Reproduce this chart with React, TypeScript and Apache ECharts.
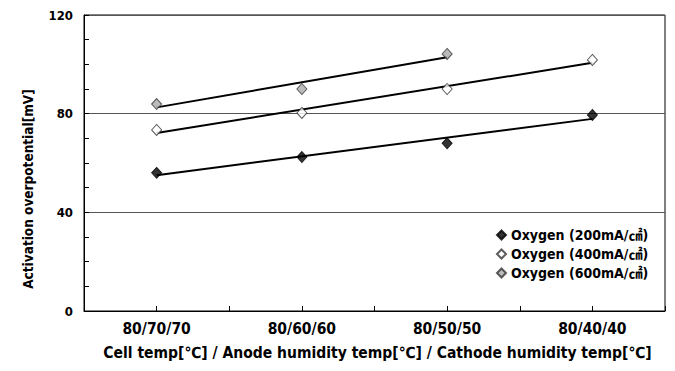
import React, { useEffect, useRef } from "react";
import * as echarts from "echarts";

const categories = ["80/70/70", "80/60/60", "80/50/50", "80/40/40"];
const seriesNames = ["Oxygen (200mA/㎠)", "Oxygen (400mA/㎠)", "Oxygen (600mA/㎠)"];
const oxygen200 = [56, 62.4, 68, 79.5];
const oxygen400 = [73.4, 80.3, 90, 101.8];
const oxygen600 = [83.9, 90, 104.2];
const yTicks = { min: 0, max: 120, interval: 40 };
const xTitle = "Cell temp[℃] / Anode humidity temp[℃] / Cathode humidity temp[℃]";
const yTitle = "Activation overpotential[mV]";

const FONT = "'DejaVu Sans Condensed', 'DejaVu Sans', 'Noto Sans CJK JP', sans-serif";

function toPoints(vals: number[]) {
  return vals.map((v, i) => [i + 0.5, v]);
}

function trend(vals: number[]) {
  const n = vals.length;
  const xs = vals.map((_, i) => i + 0.5);
  const mx = xs.reduce((a, b) => a + b, 0) / n;
  const my = vals.reduce((a, b) => a + b, 0) / n;
  let sxy = 0;
  let sxx = 0;
  for (let i = 0; i < n; i++) {
    sxy += (xs[i] - mx) * (vals[i] - my);
    sxx += (xs[i] - mx) * (xs[i] - mx);
  }
  const b = sxy / sxx;
  const a = my - b * mx;
  return [
    [xs[0], a + b * xs[0]],
    [xs[n - 1], a + b * xs[n - 1]],
  ];
}

export default function App() {
  const ref = useRef<HTMLDivElement>(null);
  useEffect(() => {
    if (!ref.current) return;
    const chart = echarts.init(ref.current, null, { renderer: "svg" });
    const styles = [
      { color: "#000", borderColor: "#000", borderWidth: 1 },
      { color: "#fff", borderColor: "#333", borderWidth: 1 },
      { color: "#aaa", borderColor: "#333", borderWidth: 1 },
    ];
    const datasets = [oxygen200, oxygen400, oxygen600];
    const scatter = datasets.map((d, i) => ({
      name: seriesNames[i],
      type: "scatter",
      data: toPoints(d),
      symbol: "diamond",
      symbolSize: [10, 11],
      itemStyle: styles[i],
      z: 5,
    }));
    const lines = datasets.map((d, i) => ({
      name: "trend" + i,
      type: "line",
      data: trend(d),
      showSymbol: false,
      symbol: "none",
      lineStyle: { color: "#000", width: 2 },
      silent: true,
      z: 3,
    }));
    chart.setOption({
      animation: false,
      backgroundColor: "#fff",
      textStyle: { fontFamily: FONT, fontWeight: "bold" },
      grid: {
        left: 84,
        right: 10,
        top: 15,
        bottom: 60,
        show: true,
        borderColor: "#000",
        borderWidth: 1,
        containLabel: false,
      },
      graphic: [
        {
          type: "text",
          x: 28,
          y: 189,
          rotation: Math.PI / 2,
          style: {
            text: yTitle,
            align: "center",
            verticalAlign: "middle",
            fontFamily: FONT,
            fontWeight: "bold",
            fontSize: 13.5,
            fill: "#000",
          },
        },
      ],
      legend: {
        data: seriesNames,
        orient: "vertical",
        left: 491,
        top: 223,
        itemWidth: 9,
        itemHeight: 9,
        itemGap: 5,
        icon: "diamond",
        textStyle: {
          fontFamily: FONT,
          fontWeight: "bold",
          fontSize: 14,
          color: "#000",
        },
      },
      xAxis: {
        type: "value",
        min: 0,
        max: categories.length,
        interval: 0.5,
        name: xTitle,
        nameLocation: "middle",
        nameGap: 34,
        nameTextStyle: {
          fontFamily: FONT,
          fontWeight: "bold",
          fontSize: 15.5,
          color: "#000",
          padding: [0, 0, 0, 6],
        },
        axisLine: { show: true, lineStyle: { color: "#000", width: 1 } },
        axisTick: { show: true, inside: true, length: 5, lineStyle: { color: "#000" } },
        splitLine: { show: false },
        axisLabel: {
          color: "#000",
          fontFamily: FONT,
          fontWeight: "bold",
          fontSize: 15.5,
          margin: 10,
          showMinLabel: true,
          showMaxLabel: true,
          formatter: (v: number) => {
            const i = Math.floor(v);
            return Math.abs(v - i - 0.5) < 1e-6 ? categories[i] : "";
          },
        },
      },
      yAxis: {
        type: "value",
        min: yTicks.min,
        max: yTicks.max,
        interval: yTicks.interval,
        axisLine: { show: true, lineStyle: { color: "#000", width: 1 } },
        axisTick: { show: true, inside: true, length: 5, lineStyle: { color: "#000" } },
        minorTick: { show: true, splitNumber: 4, length: 5, lineStyle: { color: "#000" } },
        splitLine: { show: true, lineStyle: { color: "#555", width: 1 } },
        axisLabel: { color: "#000", fontFamily: FONT, fontWeight: "bold", fontSize: 13, margin: 11 },
      },
      series: [...lines, ...scatter],
    });
    return () => chart.dispose();
  }, []);
  return (
    <div
      ref={ref}
      style={{ position: "fixed", left: 0, top: 0, width: 675, height: 371, background: "#fff" }}
    />
  );
}
